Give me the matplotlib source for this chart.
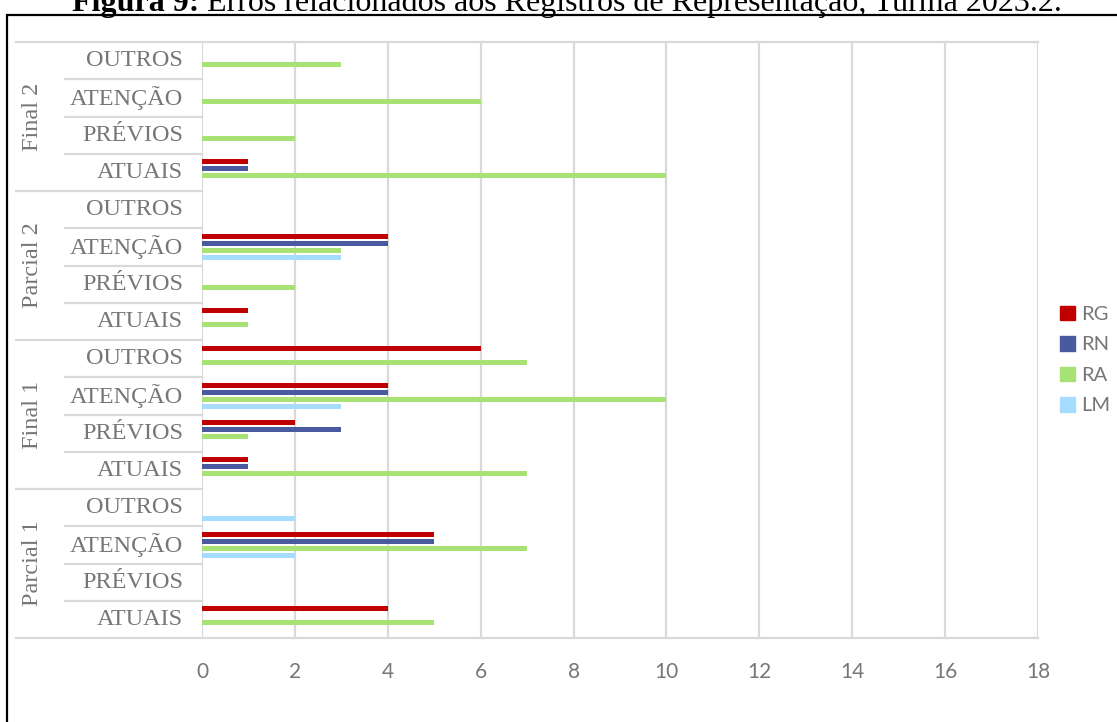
import numpy as np
import matplotlib
matplotlib.use('Agg')
import matplotlib.pyplot as plt
from matplotlib.patches import Patch
import matplotlib.transforms as mtransforms

# Dados (de baixo para cima)
grupos = ['Parcial 1', 'Final 1', 'Parcial 2', 'Final 2']
subcats = ['ATUAIS', 'PRÉVIOS', 'ATENÇÃO', 'OUTROS']
series = ['RG', 'RN', 'RA', 'LM']
cores = ['#c00000', '#4a5aa0', '#a9e274', '#a6dcff']

rg = [4, 0, 5, 0,   1, 2, 4, 6,   1, 0, 4, 0,   1, 0, 0, 0]
rn = [0, 0, 5, 0,   1, 3, 4, 0,   0, 0, 4, 0,   1, 0, 0, 0]
ra = [5, 0, 7, 0,   7, 1, 10, 7,  1, 2, 3, 0,   10, 2, 6, 3]
lm = [0, 0, 2, 2,   0, 0, 3, 0,   0, 0, 3, 0,   0, 0, 0, 0]
valores = [rg, rn, ra, lm]

cinza = '#d9d9d9'
texto = '#767676'
serif = 'Liberation Serif'

fig = plt.figure(figsize=(11.17, 7.22), dpi=100)
ax = fig.add_axes([202 / 1117, 1 - 638 / 722, 836 / 1117, 596 / 722])

n = len(grupos) * len(subcats)
y = np.arange(n)
passo = 7 / 37.25
altura = 5 / 37.25
for i, (nome, vals, cor) in enumerate(zip(series, valores, cores)):
    off = (1.5 - i) * passo
    ax.barh(y + off, vals, height=altura, color=cor, label=nome, zorder=3)

ax.set_xlim(0, 18)
ax.set_ylim(-0.5, n - 0.5)
ax.set_xticks(range(0, 19, 2))
ax.tick_params(axis='x', length=0, pad=17, labelsize=15, labelcolor=texto)
for lab in ax.get_xticklabels():
    lab.set_fontfamily('Lato')
ax.set_yticks([])
ax.grid(axis='x', color=cinza, linewidth=1.6, zorder=0)
for s in ax.spines.values():
    s.set_visible(False)

# linhas do eixo de categorias
tr = mtransforms.blended_transform_factory(ax.transAxes, ax.transData)
x_long = (16 - 202) / 836
x_short = (65 - 202) / 836
for k in range(n + 1):
    yy = k - 0.5
    if k % 4 == 0:
        x0 = x_long
        x1 = 1.0 if k in (0, n) else 0
    else:
        x0 = x_short
        x1 = 0
    ax.plot([x0, x1], [yy, yy], color=cinza, linewidth=1.6, transform=tr, clip_on=False, zorder=1)

# rótulos
for k in range(n):
    ax.text((183 - 202) / 836, k, subcats[k % 4], transform=tr, ha='right', va='center',
            fontsize=17.5, color=texto, family=serif)
for g, nome in enumerate(grupos):
    ax.text((33 - 202) / 836, g * 4 + 1.5, nome, transform=tr, ha='center', va='center',
            rotation=90, fontsize=17.5, color=texto, family=serif)

# legenda
handles = [Patch(color=c, label=s) for s, c in zip(series, cores)]
leg = fig.legend(handles=handles, loc='center left', bbox_to_anchor=(1060 / 1117, 1 - 360 / 722),
                 frameon=False, borderpad=0, borderaxespad=0, handlelength=0.75, handleheight=0.75,
                 handletextpad=0.3, labelspacing=0.65, prop={'family': 'Lato', 'size': 14.5})
for t in leg.get_texts():
    t.set_color(texto)

# moldura
fig.patches.append(plt.Rectangle((7 / 1117, -0.2), 1.2, 1.2 - 15 / 722,
                                 transform=fig.transFigure, fill=False,
                                 edgecolor='black', linewidth=1.6))

# título (cortado no topo, como no original)
tsize = 23
yb = 1 - 11 / 722
renderer = fig.canvas.get_renderer()
t1 = fig.text(0, yb, 'Figura 9:', fontsize=tsize, fontweight='bold', family=serif, va='baseline')
t2 = fig.text(0, yb, ' Erros relacionados aos Registros de Representação, Turma 2023.2.',
              fontsize=tsize, family=serif, va='baseline')
w1 = t1.get_window_extent(renderer).width
w2 = t2.get_window_extent(renderer).width
x0 = 567 - (w1 + w2) / 2
t1.set_x(x0 / 1117)
t2.set_x((x0 + w1) / 1117)

fig.savefig('out.png', dpi=100)
